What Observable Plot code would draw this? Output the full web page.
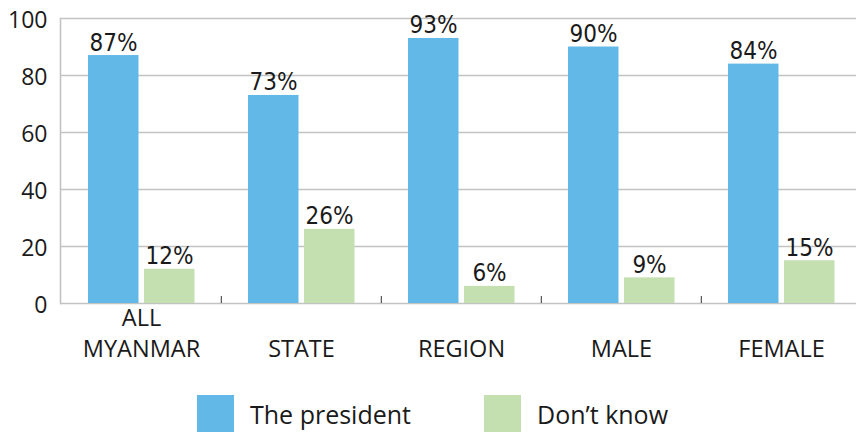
<!DOCTYPE html>
<html>
<head>
<meta charset="utf-8">
<script src="https://cdn.jsdelivr.net/npm/d3@7"></script>
<script src="https://cdn.jsdelivr.net/npm/@observablehq/plot@0.6"></script>
<style>
  html, body { margin: 0; padding: 0; background: #fff; overflow: hidden; }
  body { width: 856px; height: 432px; font-family: "Open Sans", sans-serif; }
  #legend { position: relative; height: 52px; margin-top: 15px; }
  .item { position: absolute; top: 0; display: flex; align-items: center; height: 37px; font-size: 25px; color: #1a1a1a; }
  .sw { width: 37px; height: 37px; margin-right: 16px; }
  .pct text { font-family: "DejaVu Sans", sans-serif; font-stretch: condensed; }
</style>
</head>
<body>
<div id="chart"></div>
<div id="legend"></div>
<script>
const categories = ["ALL MYANMAR", "STATE", "REGION", "MALE", "FEMALE"];
const categoryLabels = ["ALL\nMYANMAR", "STATE", "REGION", "MALE", "FEMALE"];
const seriesNames = ["The president", "Don\u2019t know"];
const presidentValues = [87, 73, 93, 90, 84];
const dontKnowValues = [12, 26, 6, 9, 15];
const yTicks = [0, 20, 40, 60, 80, 100];
const colors = ["#62b9e8", "#c4e0b0"];

const president = categories.map((c, i) => ({cat: c, value: presidentValues[i]}));
const dontKnow = categories.map((c, i) => ({cat: c, value: dontKnowValues[i]}));
const labelRows = categories.map((c, i) => ({cat: c, label: categoryLabels[i]}));

const plot = Plot.plot({
  width: 856,
  height: 380,
  marginLeft: 60,
  marginRight: 0,
  marginTop: 18,
  marginBottom: 77,
  style: {fontFamily: "'Open Sans', sans-serif", color: "#1a1a1a", background: "#fff"},
  x: {type: "band", domain: categories, range: [60, 862], padding: 0, axis: null},
  y: {domain: [0, 100], axis: null},
  marks: [
    Plot.ruleY(yTicks, {stroke: "#c3c3c3", strokeWidth: 1.6}),
    Plot.frame({anchor: "left", stroke: "#c3c3c3", strokeWidth: 1.6}),
    Plot.ruleX(categories.slice(1), {x: d => d, y1: 0, y2: 0, insetTop: -7, dx: -80.2, stroke: "#333", strokeWidth: 1}),
    Plot.barY(president, {x: "cat", y: "value", fill: colors[0], insetLeft: 27, insetRight: 82.5}),
    Plot.barY(dontKnow, {x: "cat", y: "value", fill: colors[1], insetLeft: 83, insetRight: 26.5}),
    Plot.text(president, {x: "cat", y: "value", text: d => d.value + "%", dx: -28, dy: -5, lineAnchor: "bottom", fontSize: 24, className: "pct", fill: "#1a1a1a"}),
    Plot.text(dontKnow, {x: "cat", y: "value", text: d => d.value + "%", dx: 28, dy: -5, lineAnchor: "bottom", fontSize: 24, className: "pct", fill: "#1a1a1a"}),
    Plot.text(labelRows, {x: "cat", text: "label", frameAnchor: "bottom", lineAnchor: "bottom", dy: 53, lineHeight: 1.3, fontSize: 23.5, fill: "#1a1a1a"}),
    Plot.axisY(yTicks, {tickSize: 0, tickPadding: 13, fontSize: 23, dy: 2, fill: "#1a1a1a", label: null})
  ]
});
document.getElementById("chart").appendChild(plot);

const legend = document.getElementById("legend");
const lefts = [197, 484];
seriesNames.forEach((name, i) => {
  const item = document.createElement("div");
  item.className = "item";
  item.style.left = lefts[i] + "px";
  const sw = document.createElement("div");
  sw.className = "sw";
  sw.style.background = colors[i];
  const t = document.createElement("span");
  t.textContent = name;
  item.appendChild(sw);
  item.appendChild(t);
  legend.appendChild(item);
});
</script>
</body>
</html>
